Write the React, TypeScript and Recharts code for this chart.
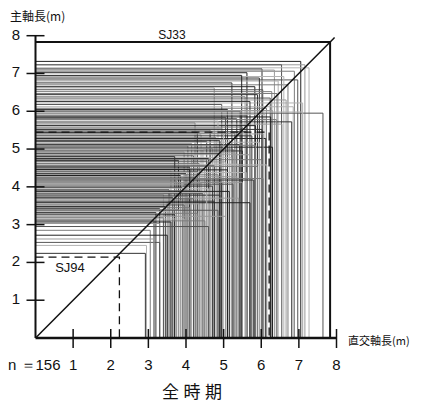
import React from "react";
import { LineChart, Line, XAxis, YAxis } from "recharts";

// 直交軸長 (m) of each pit
const orthoAxis: number[] = [
  7.05, 7.16, 6.54, 7.27, 6.02, 6.88, 5.62, 6.35,
  6.97, 6.45, 5.22, 6.71, 5.83, 4.75, 6.04, 6.6, 5.95, 6.28, 5.48,
  5.57, 6.24, 7.1, 5.9, 6.14, 5.44, 6.66, 4.95, 6.85, 5.7, 6.42, 5.1, 6.3,
  7.64, 7.1, 6.81, 4.24, 4.64, 4.95, 5.62, 6.1, 5.35, 6.4, 5.85, 6.55, 5.05, 4.85, 6.02, 5.5, 6.25,
  4.15, 5.3, 4.4, 5.75, 4.8, 6.12, 5.15, 4.55, 5.95, 5.42, 4.05, 6.3, 4.7, 5.6, 5.0, 4.3, 5.85, 4.9, 6.05, 5.25,
  4.45, 5.5, 3.95, 4.9, 5.7, 4.2, 5.2, 4.6, 6.0, 3.8, 5.05, 4.35, 5.4, 4.75, 5.9, 4.1, 5.3, 4.55, 6.15, 3.7,
  4.5, 5.1, 3.6, 4.3, 5.6, 4.0, 4.85, 3.85, 5.35, 4.2, 4.65, 5.8, 3.75, 4.95, 4.4, 5.25, 3.95, 4.7, 6.05, 4.1, 5.5,
  3.9, 4.6, 3.55, 4.25, 5.15, 3.75, 4.45, 3.4, 4.9, 4.05, 3.65, 5.4, 4.2, 3.85, 4.75, 3.5, 5.7, 4.35, 3.95, 4.55,
  3.45, 4.1, 3.3, 3.8, 4.85, 3.55, 3.2, 4.3, 3.7, 5.05, 3.4, 3.95, 3.15, 4.5, 3.6, 3.3,
  3.3, 2.95, 2.92, 3.05, 3.5, 3.15, 4.6,
];

// 主軸長 (m) of each pit
const mainAxis: number[] = [
  7.32, 7.23, 7.23, 7.15, 7.12, 7.06, 7.02, 7.09,
  6.83, 6.8, 6.75, 6.7, 6.65, 6.62, 6.57, 6.92, 6.88, 6.52, 6.95,
  6.39, 6.35, 6.22, 6.44, 6.08, 6.0, 6.3, 6.18, 6.12, 6.26, 6.47, 6.05, 6.02,
  5.95, 5.98, 5.72, 5.69, 5.5, 5.55, 5.88, 5.92, 5.8, 5.78, 5.62, 5.66, 5.84, 5.74, 5.52, 5.58, 5.85,
  5.15, 5.42, 5.38, 5.35, 5.3, 5.28, 5.25, 5.2, 5.18, 5.12, 5.08, 5.05, 5.02, 5.46, 5.48, 5.44, 5.1, 5.22, 5.4, 5.0,
  4.98, 4.95, 4.92, 4.88, 4.85, 4.82, 4.78, 4.75, 4.72, 4.7, 4.66, 4.62, 4.6, 4.56, 4.54, 4.52, 4.9, 4.68, 4.58, 4.8,
  4.48, 4.45, 4.42, 4.4, 4.38, 4.35, 4.32, 4.3, 4.27, 4.24, 4.2, 4.18, 4.15, 4.12, 4.1, 4.07, 4.05, 4.02, 4.22, 4.46, 4.12,
  3.98, 3.95, 3.92, 3.9, 3.88, 3.85, 3.82, 3.8, 3.78, 3.75, 3.72, 3.7, 3.68, 3.65, 3.62, 3.6, 3.58, 3.55, 3.52, 3.85,
  3.48, 3.45, 3.42, 3.4, 3.38, 3.35, 3.32, 3.3, 3.26, 3.22, 3.18, 3.15, 3.12, 3.1, 3.07, 3.03,
  2.53, 2.45, 2.24, 2.85, 2.72, 2.62, 2.95,
];

const axisTicks: number[] = [1, 2, 3, 4, 5, 6, 7, 8];

// highlighted pits
const sj94 = { ortho: 2.23, main: 2.14 };
const sj33 = { ortho: 6.21, main: 5.45 };
const frameSide = 7.83;
const diagonalEnd = 7.95;

const corner = (x: number, y: number) => [
  { x: 0, y },
  { x, y },
  { x, y: 0 },
];

const pits = orthoAxis.map((x, i) => corner(x, mainAxis[i]));
const shades = ["#222222", "#9a9a9a", "#555555", "#b3b3b3", "#333333", "#7c7c7c"];

const numFont = "'Liberation Sans Narrow', 'Liberation Sans', Arial, sans-serif";
const cjkFont = "'Noto Sans CJK JP', sans-serif";

const XTick = (props: any) => {
  const { x, y, payload } = props;
  return (
    <g>
      <line x1={x} x2={x} y1={y - 9} y2={y + 10} stroke="#111" strokeWidth={1.5} />
      <text x={x} y={y + 31.5} textAnchor="middle" fontSize={15} fontFamily={numFont} fill="#111">
        {payload.value}
      </text>
    </g>
  );
};

const YTick = (props: any) => {
  const { x, y, payload } = props;
  return (
    <g>
      <line x1={x - 9} x2={x + 9} y1={y} y2={y} stroke="#111" strokeWidth={1.5} />
      <text x={x - 19.5} y={y + 4} textAnchor="middle" fontSize={15} fontFamily={numFont} fill="#111">
        {payload.value}
      </text>
    </g>
  );
};

export default function App() {
  return (
    <div style={{ position: "relative", width: 405, height: 395 }}>
      <LineChart width={405} height={395} margin={{ top: 27.7, right: 76.5, bottom: 25, left: 0 }}>
        <XAxis
          type="number"
          dataKey="x"
          domain={[0, 8]}
          ticks={axisTicks}
          interval={0}
          height={40}
          tickSize={0}
          tickMargin={0}
          tickLine={false}
          axisLine={{ stroke: "#111", strokeWidth: 2.5 }}
          tick={XTick}
          allowDataOverflow
        />
        <YAxis
          type="number"
          dataKey="y"
          domain={[0, 8]}
          ticks={axisTicks}
          interval={0}
          width={27.5}
          tickSize={0}
          tickMargin={0}
          tickLine={false}
          axisLine={{ stroke: "#111", strokeWidth: 2 }}
          tick={YTick}
          allowDataOverflow
        />
        {pits.map((d, i) => (
          <Line
            key={"p" + i}
            name={"pit" + i}
            data={d}
            dataKey="y"
            type="linear"
            stroke={shades[i % shades.length]}
            strokeWidth={1}
            dot={false}
            activeDot={false}
            isAnimationActive={false}
          />
        ))}
        <Line
          name="frame"
          data={corner(frameSide, frameSide)}
          dataKey="y"
          type="linear"
          stroke="#111"
          strokeWidth={2}
          dot={false}
          activeDot={false}
          isAnimationActive={false}
        />
        <Line
          name="sj33"
          data={corner(sj33.ortho, sj33.main)}
          dataKey="y"
          type="linear"
          stroke="#111"
          strokeWidth={1.3}
          strokeDasharray="8 5"
          dot={false}
          activeDot={false}
          isAnimationActive={false}
        />
        <Line
          name="sj94"
          data={corner(sj94.ortho, sj94.main)}
          dataKey="y"
          type="linear"
          stroke="#111"
          strokeWidth={1.3}
          strokeDasharray="8 5"
          dot={false}
          activeDot={false}
          isAnimationActive={false}
        />
        <Line
          name="diagonal"
          data={[{ x: 0, y: 0 }, { x: diagonalEnd, y: diagonalEnd }]}
          dataKey="y"
          type="linear"
          stroke="#111"
          strokeWidth={1.5}
          dot={false}
          activeDot={false}
          isAnimationActive={false}
        />
      </LineChart>
      <svg
        width={405}
        height={395}
        style={{ position: "absolute", left: 0, top: 0, pointerEvents: "none", overflow: "visible" }}
      >
        <text x={2} y={12.5} fontSize={12} fontFamily={cjkFont} fill="#111">主軸長(m)</text>
        <text x={164} y={30.5} textAnchor="middle" fontSize={12} fontFamily={numFont} fill="#111">SJ33</text>
        <text x={62} y={264} textAnchor="middle" fontSize={13} fontFamily={numFont} fill="#111">SJ94</text>
        <text x={0} y={361.5} fontSize={15} fontFamily={numFont} fill="#111">n ＝156</text>
        <text x={340} y={336.5} fontSize={11} fontFamily={cjkFont} fill="#111">直交軸長(m)</text>
        <text x={154} y={390} fontSize={17} letterSpacing={4.5} fontFamily={cjkFont} fill="#111">全時期</text>
      </svg>
    </div>
  );
}
